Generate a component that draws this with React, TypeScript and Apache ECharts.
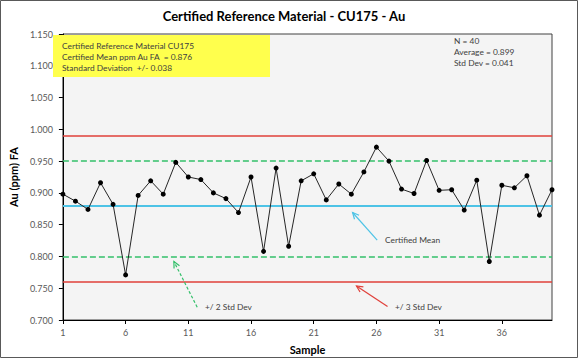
import React, { useEffect, useRef } from "react";
import * as echarts from "echarts";

// ---- data ----
const SAMPLES: string[] = Array.from({ length: 40 }, (_, i) => String(i + 1));
const AU_PPM: number[] = [
  0.898, 0.887, 0.874, 0.916, 0.882, 0.771, 0.896, 0.919, 0.898, 0.948,
  0.925, 0.921, 0.900, 0.891, 0.869, 0.925, 0.808, 0.939, 0.816, 0.919,
  0.930, 0.889, 0.914, 0.898, 0.933, 0.972, 0.950, 0.906, 0.899, 0.951,
  0.904, 0.905, 0.873, 0.920, 0.792, 0.912, 0.908, 0.927, 0.865, 0.905,
];
const CERT_MEAN = 0.876;
const CERT_SD = 0.038;
const Y_MIN = 0.7;
const Y_MAX = 1.15;
const Y_STEP = 0.05;
const INFO_LINES = [
  "Certified Reference Material CU175",
  "Certified Mean ppm Au FA  = 0.876",
  "Standard Deviation  +/- 0.038",
];
const STAT_LINES = ["N = 40", "Average = 0.899", "Std Dev = 0.041"];
// annotation arrows: [fromSample, fromValue, toSample, toValue]
const ARROW_MEAN = [26.5, 0.83, 24.6, 0.873];
const ARROW_2SD = [12.6, 0.726, 10.8, 0.797];
const ARROW_3SD = [27.3, 0.727, 24.9, 0.759];

// ---- layout ----
const W = 578;
const H = 360;
const G_LEFT = 47;
const G_RIGHT = 26;
const G_TOP = 34;
const G_BOTTOM = 36;
const FONT = "Lato, 'Open Sans', sans-serif";

const RED = "#e0403a";
const GREEN = "#33c06a";
const CYAN = "#4dc3e6";

function px(sample: number, val: number): [number, number] {
  const pw = W - G_LEFT - G_RIGHT;
  const ph = H - G_TOP - G_BOTTOM;
  const x = G_LEFT + ((sample - 1) / (SAMPLES.length - 1)) * pw;
  const y = G_TOP + ((Y_MAX - val) / (Y_MAX - Y_MIN)) * ph;
  return [x, y];
}

function arrow(a: number[], color: string, dashed: boolean): any[] {
  const p0 = px(a[0], a[1]);
  const p1 = px(a[2], a[3]);
  const ang = Math.atan2(p0[1] - p1[1], p0[0] - p1[0]);
  const L = 7;
  const s = Math.PI / 7;
  const h1 = [p1[0] + L * Math.cos(ang + s), p1[1] + L * Math.sin(ang + s)];
  const h2 = [p1[0] + L * Math.cos(ang - s), p1[1] + L * Math.sin(ang - s)];
  return [
    {
      type: "line",
      shape: { x1: p0[0], y1: p0[1], x2: p1[0], y2: p1[1] },
      style: { stroke: color, lineWidth: 1.2, lineDash: dashed ? [3, 2] : null },
      z: 10,
    },
    {
      type: "polyline",
      shape: { points: [h1, p1, h2] },
      style: { stroke: color, lineWidth: 1.2, fill: null },
      z: 10,
    },
  ];
}

function refItem(value: number, color: string, type: string, width: number) {
  return { yAxis: value, lineStyle: { color, type, width, opacity: 1 } };
}

export default function App() {
  const ref = useRef<HTMLDivElement>(null);
  useEffect(() => {
    if (!ref.current) return;
    const chart = echarts.init(ref.current, undefined, { renderer: "svg" });

    const textStyle = (text: string, x: number, y: number, size = 8.4) => ({
      type: "text",
      x,
      y,
      z: 20,
      style: {
        text,
        fill: "#404040",
        font: `${size}px ${FONT}`,
        verticalAlign: "middle",
      },
    });

    const graphics: any[] = [
      {
        type: "rect",
        shape: { x: 0.5, y: 0.5, width: W - 1, height: H - 3 },
        style: { fill: null, stroke: "#595959", lineWidth: 1 },
        silent: true,
        z: 0,
      },
      {
        type: "rect",
        shape: { x: 53, y: 35, width: 217, height: 42 },
        style: { fill: "#ffff4d" },
        z: 15,
      },
      ...INFO_LINES.map((t, i) => textStyle(t, 62, 45.5 + i * 11)),
      ...STAT_LINES.map((t, i) => textStyle(t, 454, 40.5 + i * 11)),
      textStyle("Certified Mean", 385, 240),
      textStyle("+/ 2 Std Dev", 205, 307),
      textStyle("+/ 3 Std Dev", 395, 307),
      ...arrow(ARROW_MEAN, CYAN, false),
      ...arrow(ARROW_2SD, GREEN, true),
      ...arrow(ARROW_3SD, RED, false),
    ];

    chart.setOption({
      animation: false,
      backgroundColor: "#ffffff",
      textStyle: { fontFamily: FONT },
      title: {
        text: "Certified Reference Material - CU175 - Au",
        left: 279,
        textAlign: "center",
        top: 4,
        textStyle: { fontFamily: FONT, fontSize: 13, fontWeight: "bold", color: "#000" },
      },
      grid: {
        left: G_LEFT,
        right: G_RIGHT,
        top: G_TOP,
        bottom: G_BOTTOM,
        show: true,
        backgroundColor: "#f4f4f4",
        borderColor: "#404040",
        borderWidth: 1,
      },
      xAxis: {
        type: "category",
        data: SAMPLES,
        boundaryGap: false,
        name: "Sample",
        nameLocation: "middle",
        nameGap: 24,
        nameTextStyle: { fontFamily: FONT, fontSize: 11, fontWeight: "bold", color: "#000" },
        axisLine: { lineStyle: { color: "#000", width: 1 } },
        axisTick: { interval: 4, length: 4, lineStyle: { color: "#000" } },
        axisLabel: { interval: 4, fontSize: 9, color: "#595959", margin: 8, fontFamily: FONT },
        splitLine: { show: false },
      },
      yAxis: {
        type: "value",
        min: Y_MIN,
        max: Y_MAX,
        interval: Y_STEP,
        name: "Au (ppm) FA",
        nameLocation: "middle",
        nameGap: 36,
        nameTextStyle: { fontFamily: FONT, fontSize: 11, fontWeight: "bold", color: "#000" },
        axisLine: { show: true, lineStyle: { color: "#000", width: 1 } },
        axisTick: { show: true, length: 4, lineStyle: { color: "#000" } },
        axisLabel: {
          fontSize: 9,
          color: "#595959",
          margin: 10,
          fontFamily: FONT,
          formatter: (v: number) => v.toFixed(3),
        },
        splitLine: { show: false },
      },
      series: [
        {
          type: "line",
          name: "Au",
          data: AU_PPM,
          z: 5,
          symbol: "circle",
          symbolSize: 5,
          itemStyle: { color: "#000" },
          lineStyle: { color: "#262626", width: 1 },
          markLine: {
            silent: true,
            symbol: "none",
            label: { show: false },
            z: 1,
            data: [
              refItem(CERT_MEAN + 3 * CERT_SD, RED, "solid", 1.5),
              refItem(CERT_MEAN - 3 * CERT_SD, RED, "solid", 1.5),
              refItem(CERT_MEAN + 2 * CERT_SD, GREEN, "dashed", 1.5),
              refItem(CERT_MEAN - 2 * CERT_SD, GREEN, "dashed", 1.5),
              refItem(CERT_MEAN, CYAN, "solid", 2),
            ],
          },
        },
      ],
      graphic: graphics,
    });

    return () => chart.dispose();
  }, []);

  return (
    <div
      ref={ref}
      style={{ position: "fixed", left: 0, top: 0, width: W, height: H }}
    />
  );
}
